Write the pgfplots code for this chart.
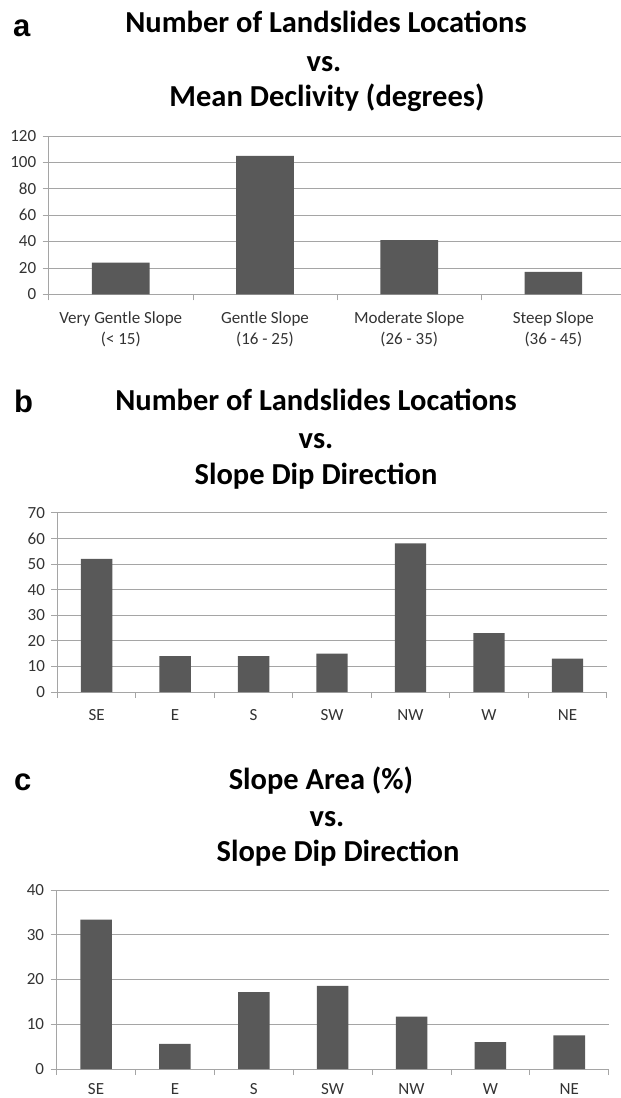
\documentclass[border=0pt]{standalone}
\usepackage{fontspec}
\setmainfont{Carlito}
\newfontfamily\panelfont{Liberation Sans}
\usepackage{pgfplots}
\pgfplotsset{compat=1.18}
\definecolor{barc}{RGB}{89,89,89}
\definecolor{gridc}{RGB}{165,165,165}
\pgfplotsset{
  slopebar/.style={
    scale only axis,
    anchor=south west,
    ybar, bar width=0.4,
    axis x line*=bottom, axis y line*=left,
    axis line style={gridc, line width=0.8pt},
    tick align=outside,
    major tick length=6pt,
    tick style={gridc, line width=0.8pt},
    ymajorgrids,
    grid style={gridc, line width=0.8pt},
    ymin=0,
    /pgf/number format/assume math mode=true,
    tick label style={font=\fontsize{17}{21}\selectfont, text=black!80},
    y tick label style={xshift=-3pt},
    x tick label style={align=center, inner sep=1pt, yshift=-16pt},
    xticklabels={},
    extra x tick style={major tick length=0pt, grid=none},
    clip=false,
  }
}
\begin{document}
\begin{tikzpicture}
\useasboundingbox (0,0) rectangle (621pt,-1098pt);
% ---- panel a ----
\node[anchor=base west, inner sep=0pt, font=\panelfont\bfseries\fontsize{31}{34}\selectfont] at (13pt,-36.5pt) {a};
\begin{scope}[every node/.style={anchor=base, font=\bfseries\fontsize{30.5}{34}\selectfont}]
\node at (326pt,-32.3pt) {Number of Landslides Locations};
\node at (324pt,-71.7pt) {vs.};
\node at (327pt,-106pt) {Mean Declivity (degrees)};
\end{scope}
\begin{axis}[slopebar,
  at={(48.7pt,-294.3pt)},
  width=576.8pt, height=158.3pt,
  xmin=-0.5, xmax=3.5, ymax=120, ytick={0,20,...,120},
  xtick={-0.5,0.5,1.5,2.5,3.5},
  extra x ticks={0,1,2,3},
  extra x tick labels={{Very Gentle Slope\\(< 15)},{Gentle Slope\\(16 - 25)},{Moderate Slope\\(26 - 35)},{Steep Slope\\(36 - 45)}},
]
\addplot[fill=barc, draw=none] coordinates {(0,24) (1,105) (2,41) (3,17)};
\end{axis}
% ---- panel b ----
\node[anchor=base west, inner sep=0pt, font=\panelfont\bfseries\fontsize{31}{34}\selectfont] at (14pt,-412pt) {b};
\begin{scope}[every node/.style={anchor=base, font=\bfseries\fontsize{30.5}{34}\selectfont}]
\node at (316pt,-410.7pt) {Number of Landslides Locations};
\node at (316pt,-448pt) {vs.};
\node at (316pt,-484pt) {Slope Dip Direction};
\end{scope}
\begin{axis}[slopebar,
  at={(57.4pt,-692pt)},
  width=549.3pt, height=179.3pt,
  xmin=-0.5, xmax=6.5, ymax=70, ytick={0,10,...,70},
  xtick={-0.5,0.5,...,6.5},
  extra x ticks={0,1,...,6},
  extra x tick labels={SE,E,S,SW,NW,W,NE},
]
\addplot[fill=barc, draw=none] coordinates {(0,52) (1,14) (2,14) (3,15) (4,58) (5,23) (6,13)};
\end{axis}
% ---- panel c ----
\node[anchor=base west, inner sep=0pt, font=\panelfont\bfseries\fontsize{31}{34}\selectfont] at (14pt,-790pt) {c};
\begin{scope}[every node/.style={anchor=base, font=\bfseries\fontsize{30.5}{34}\selectfont}]
\node at (321pt,-789pt) {Slope Area (\%)};
\node at (327pt,-826.7pt) {vs.};
\node at (338pt,-861pt) {Slope Dip Direction};
\end{scope}
\begin{axis}[slopebar,
  at={(56.6pt,-1069pt)},
  width=552.1pt, height=179pt,
  xmin=-0.5, xmax=6.5, ymax=40, ytick={0,10,...,40},
  xtick={-0.5,0.5,...,6.5},
  extra x ticks={0,1,...,6},
  extra x tick labels={SE,E,S,SW,NW,W,NE},
  x tick label style={yshift=3pt},
]
\addplot[fill=barc, draw=none] coordinates {(0,33.4) (1,5.6) (2,17.2) (3,18.6) (4,11.7) (5,6.0) (6,7.5)};
\end{axis}
\end{tikzpicture}
\end{document}
